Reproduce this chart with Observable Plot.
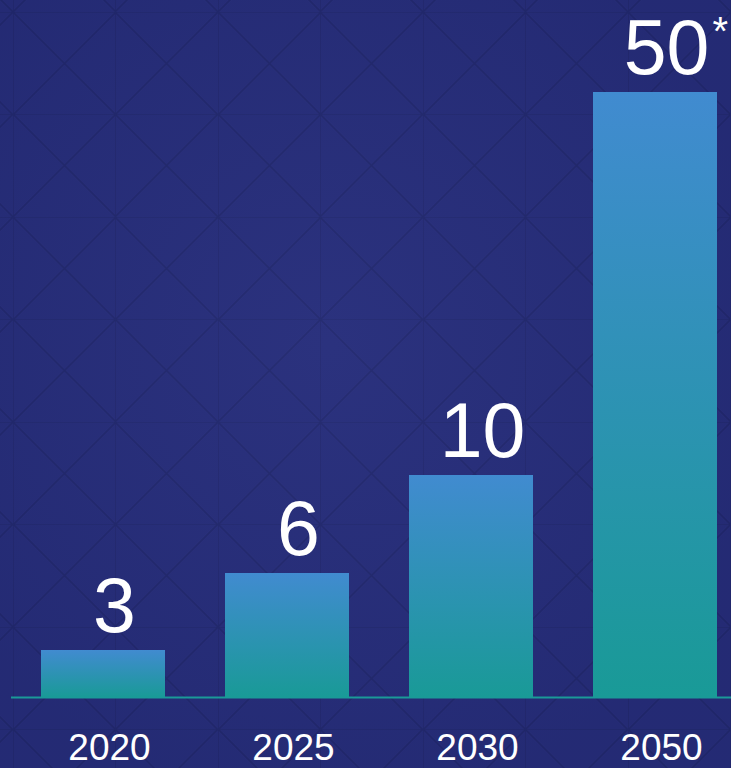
<!DOCTYPE html>
<html>
<head>
<meta charset="utf-8">
<script src="https://cdn.jsdelivr.net/npm/d3@7"></script>
<script src="https://cdn.jsdelivr.net/npm/@observablehq/plot@0.6"></script>
<style>
  html, body { margin: 0; padding: 0; }
  body {
    width: 731px; height: 768px; overflow: hidden;
    background-color: #262d7b;
    font-family: "Liberation Sans", Arial, sans-serif;
  }
  #chart {
    width: 731px; height: 768px; overflow: hidden;
    background-color: #262d7b;
    background-image:
      radial-gradient(ellipse at 45% 45%, rgba(255,255,255,0.025), rgba(0,0,0,0.06) 80%),
      url("data:image/svg+xml;utf8,<svg xmlns='http://www.w3.org/2000/svg' width='102.5' height='102.5'><g stroke='%231e2467' stroke-opacity='0.6' stroke-width='1.6' fill='none'><path d='M0 0H102.5M0 0V102.5M0 0L102.5 102.5M102.5 0L0 102.5'/></g></svg>");
    background-size: 100% 100%, 102.5px 102.5px;
    background-position: 0 0, 13px 12px;
  }
  svg { display: block; }
</style>
</head>
<body>
<div id="chart"></div>
<script>
// Data
const years = ["2020", "2025", "2030", "2050"];
const values = [3, 6, 10, 50];
const notes = ["", "", "", "*"];

const data = years.map((year, i) => ({ year, value: values[i], note: notes[i] }));
const noted = data.filter(d => d.note !== "");

const font = "Liberation Sans, Arial, sans-serif";

const defs = () => {
  const g = d3.create("svg:defs");
  const lg = g.append("linearGradient")
    .attr("id", "barGrad")
    .attr("x1", 0).attr("y1", 0).attr("x2", 0).attr("y2", 1);
  lg.append("stop").attr("offset", "0%").attr("stop-color", "#418bd0");
  lg.append("stop").attr("offset", "100%").attr("stop-color", "#199a97");
  return g.node();
};

const chart = Plot.plot({
  width: 731,
  height: 768,
  marginTop: 0,
  marginLeft: 11,
  marginRight: 0,
  marginBottom: 71,
  style: { background: "transparent", color: "white", fontFamily: font },
  x: { domain: years, range: [11, 747], paddingInner: 0.326, paddingOuter: 0.163, label: null },
  y: { type: "linear", domain: [0, 3, 6, 10, 50], range: [697, 650, 573, 475, 92], axis: null },
  marks: [
    defs,
    Plot.barY(data, { x: "year", y: "value", fill: "url(#barGrad)" }),
    Plot.ruleY([0], { stroke: "#1a9a98", strokeWidth: 2 }),
    Plot.text(data, {
      x: "year", y: "value",
      text: d => String(d.value),
      dy: -19, dx: 11,
      lineAnchor: "bottom",
      fontSize: 77,
      fill: "white",
      fontFamily: font
    }),
    Plot.text(noted, {
      x: "year", y: "value",
      text: "note",
      dy: -48, dx: 57,
      textAnchor: "start",
      lineAnchor: "bottom",
      fontSize: 40,
      fill: "white",
      fontFamily: font
    }),
    Plot.axisX({
      tickSize: 0, tickPadding: 36, fontSize: 37, fill: "white",
      dx: 6, fontFamily: font, label: null
    })
  ]
});

document.getElementById("chart").appendChild(chart);
</script>
</body>
</html>
